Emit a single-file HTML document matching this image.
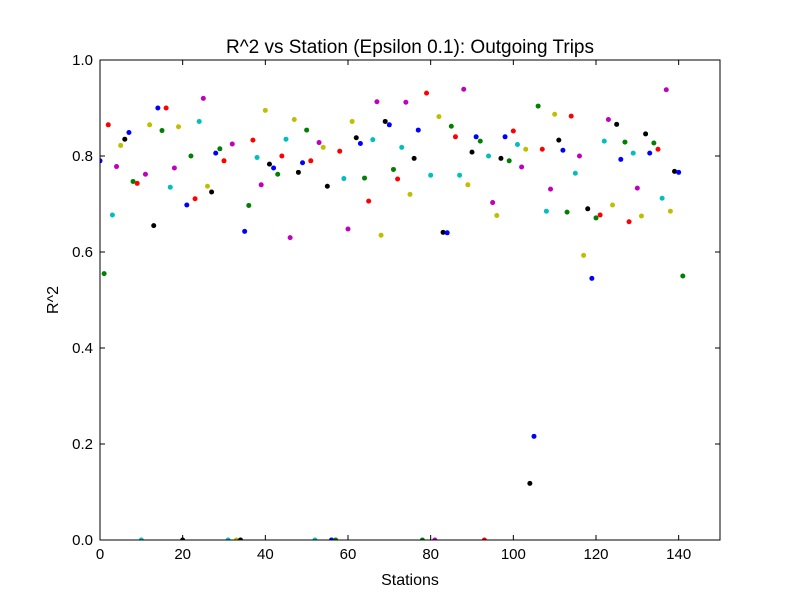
<!DOCTYPE html>
<html><head><meta charset="utf-8"><style>
body{margin:0;background:#fff;}
svg text{font-family:"Liberation Sans","DejaVu Sans",sans-serif;}
</style></head><body>
<svg id="chart" width="800" height="600" xmlns="http://www.w3.org/2000/svg">
<rect width="800" height="600" fill="#fff"/>
<defs><clipPath id="clip"><rect x="100" y="60" width="620" height="480"/></clipPath></defs>
<g id="points" clip-path="url(#clip)"></g>
<g id="axes"></g>
<text x="410" y="53" text-anchor="middle" font-size="19">R^2 vs Station (Epsilon 0.1): Outgoing Trips</text>
<text x="410" y="585" text-anchor="middle" font-size="16">Stations</text>
<text x="58" y="300" text-anchor="middle" font-size="16" transform="rotate(-90 58 300)">R^2</text>
</svg>
<script>
const values = [0.79,0.555,0.865,0.677,0.778,0.822,0.835,0.849,0.747,0.743,0,0.762,0.865,0.655,0.9,0.853,0.9,0.735,0.775,0.861,0,0.698,0.8,0.711,0.872,0.92,0.737,0.725,0.806,0.815,0.79,0,0.825,0,0,0.643,0.697,0.833,0.797,0.74,0.895,0.783,0.775,0.762,0.8,0.835,0.63,0.876,0.766,0.786,0.854,0.79,0,0.828,0.818,0.737,0,0,0.81,0.753,0.648,0.872,0.838,0.826,0.754,0.706,0.834,0.913,0.635,0.872,0.865,0.772,0.752,0.818,0.912,0.72,0.795,0.854,0,0.931,0.76,0,0.882,0.641,0.64,0.862,0.84,0.76,0.939,0.74,0.808,0.84,0.831,0,0.8,0.703,0.676,0.795,0.84,0.79,0.852,0.824,0.777,0.814,0.118,0.216,0.904,0.814,0.685,0.731,0.887,0.833,0.812,0.683,0.883,0.764,0.8,0.593,0.69,0.545,0.671,0.677,0.831,0.876,0.698,0.866,0.793,0.829,0.663,0.806,0.733,0.675,0.846,0.806,0.827,0.814,0.712,0.938,0.685,0.768,0.766,0.55];
const xTicks = [0,20,40,60,80,100,120,140];
const yTicks = [0.0,0.2,0.4,0.6,0.8,1.0];
const colors = ['#0000ff','#008000','#ff0000','#00bfbf','#bf00bf','#bfbf00','#000000'];
const NS='http://www.w3.org/2000/svg';
const X0=100,X1=720,Y0=540,Y1=60;
const sx=v=>X0+(v/150)*(X1-X0);
const sy=v=>Y0-(v/1)*(Y0-Y1);
const pg=document.getElementById('points');
values.forEach((v,i)=>{
  const c=document.createElementNS(NS,'circle');
  c.setAttribute('cx',sx(i));c.setAttribute('cy',sy(v));c.setAttribute('r',2.5);
  c.setAttribute('fill',colors[i%7]);
  
  
  pg.appendChild(c);
});
const ag=document.getElementById('axes');
function el(tag,attrs,txt){const e=document.createElementNS(NS,tag);for(const k in attrs)e.setAttribute(k,attrs[k]);if(txt!==undefined)e.textContent=txt;ag.appendChild(e);return e;}
const frame=el('rect',{x:X0,y:Y1,width:X1-X0,height:Y0-Y1,fill:'none',stroke:'#000','stroke-width':1});


xTicks.forEach(t=>{
  const x=sx(t);
  el('line',{x1:x,x2:x,y1:Y0,y2:Y0-5,stroke:'#000'});
  el('line',{x1:x,x2:x,y1:Y1,y2:Y1+5,stroke:'#000'});
  const l=el('text',{x:x,y:Y0+19,'text-anchor':'middle','font-size':15},String(t));
  
  
});
yTicks.forEach(t=>{
  const y=sy(t);
  el('line',{x1:X0,x2:X0+5,y1:y,y2:y,stroke:'#000'});
  el('line',{x1:X1,x2:X1-5,y1:y,y2:y,stroke:'#000'});
  const l=el('text',{x:X0-7,y:y+5,'text-anchor':'end','font-size':15},t.toFixed(1));
  
  
});
</script>
</body></html>
